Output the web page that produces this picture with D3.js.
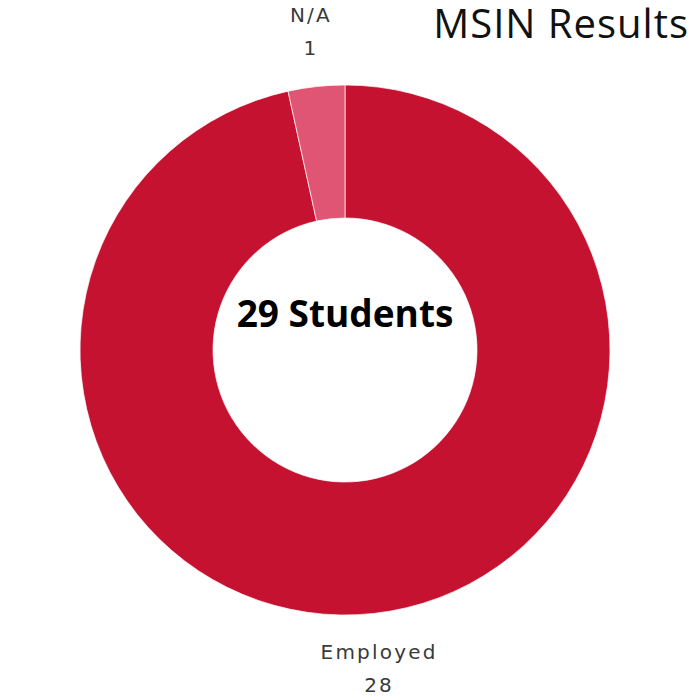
<!DOCTYPE html>
<html><head><meta charset="utf-8">
<script src="https://cdn.jsdelivr.net/npm/d3@7"></script>
<style>body{margin:0;background:#fff}</style>
</head><body>
<svg id="c" width="700" height="700"></svg>
<script>
const categories = ["Employed", "N/A"];
const values = [28, 1];
const colors = ["#C41230", "#E05574"];
const title = "MSIN Results";
const centerText = "29 Students";

const svg = d3.select("#c");
const cx = 345, cy = 350, rO = 265, rI = 132;
const pie = d3.pie().sort(null).value(d => d.v);
const arcs = pie(categories.map((c, i) => ({c, v: values[i], col: colors[i]})));
const arc = d3.arc().innerRadius(rI).outerRadius(rO);
const g = svg.append("g").attr("transform", `translate(${cx},${cy})`);
g.selectAll("path").data(arcs).join("path")
  .attr("d", arc).attr("fill", d => d.data.col)
  .attr("stroke", "#fff").attr("stroke-width", 0.7);

const lab = d3.arc().innerRadius(315).outerRadius(315);
arcs.forEach(d => {
  let [x, y] = lab.centroid(d);
  if (y < 0) y -= 11;
  const t = g.append("text").attr("text-anchor", "middle")
    .attr("font-family", "DejaVu Sans, sans-serif").attr("font-size", 20)
    .attr("fill", "#3a3a3a").attr("letter-spacing", 2.2);
  t.append("tspan").attr("x", x).attr("y", y - 4).text(d.data.c);
  t.append("tspan").attr("x", x).attr("y", y + 29).text(d.data.v);
});

g.append("text").attr("text-anchor", "middle").attr("y", -23)
  .attr("font-family", "Open Sans, sans-serif").attr("font-weight", 700)
  .attr("font-size", 37).attr("fill", "#000").text(centerText);

svg.append("text").attr("x", 689).attr("y", 38).attr("text-anchor", "end")
  .attr("font-family", "Open Sans, sans-serif").attr("font-size", 40)
  .attr("letter-spacing", 1).attr("fill", "#111").text(title);
</script>
</body></html>
